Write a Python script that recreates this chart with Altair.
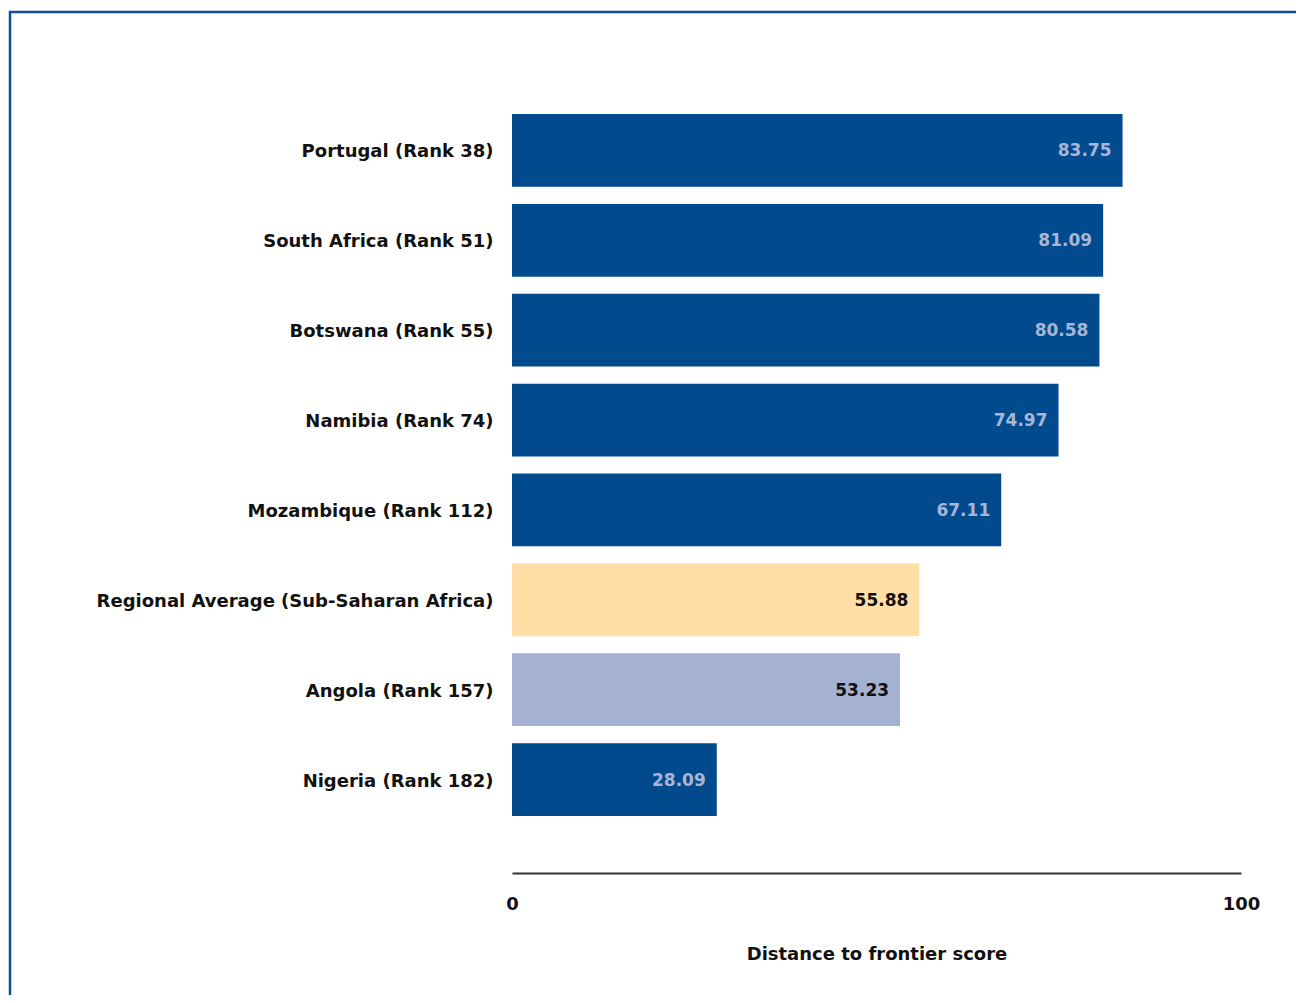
import altair as alt
import pandas as pd

countries = [
    "Portugal (Rank 38)",
    "South Africa (Rank 51)",
    "Botswana (Rank 55)",
    "Namibia (Rank 74)",
    "Mozambique (Rank 112)",
    "Regional Average (Sub-Saharan Africa)",
    "Angola (Rank 157)",
    "Nigeria (Rank 182)",
]
scores = [83.75, 81.09, 80.58, 74.97, 67.11, 55.88, 53.23, 28.09]
groups = ["other", "other", "other", "other", "other", "region", "angola", "other"]

df = pd.DataFrame({"country": countries, "score": scores, "group": groups})
df["label"] = df["score"].map(lambda v: f"{v:.2f}")

FONT = "DejaVu Sans"

y_enc = alt.Y(
    "country:N",
    sort=countries,
    scale=alt.Scale(paddingInner=0.19, paddingOuter=0.1),
    axis=alt.Axis(
        title=None, domain=False, ticks=False, labelPadding=19,
        labelOffset=2,
        labelFont=FONT, labelFontWeight="bold", labelFontSize=18,
        labelColor="#111111", labelLimit=600,
    ),
)
x_enc = alt.X(
    "score:Q",
    scale=alt.Scale(domain=[0, 100], nice=False),
    axis=alt.Axis(
        title="Distance to frontier score", values=[0, 100], grid=False,
        ticks=False, domainColor="#333333", domainWidth=2, offset=48,
        labelPadding=22, labelFlush=False, labelFont=FONT,
        labelFontWeight="bold", labelFontSize=18, labelColor="#111111",
        titleFont=FONT, titleFontWeight="bold", titleFontSize=18,
        titleColor="#111111", titlePadding=32,
    ),
)

bars = alt.Chart(df).mark_bar(cornerRadius=0).encode(
    y=y_enc,
    x=x_enc,
    color=alt.Color(
        "group:N",
        scale=alt.Scale(domain=["other", "region", "angola"],
                        range=["#004A8D", "#FFDFA6", "#A4B1D3"]),
        legend=None,
    ),
)

text = alt.Chart(df).mark_text(
    align="right", baseline="middle", dx=-11, dy=1, font=FONT,
    fontWeight="bold", fontSize=17,
).encode(
    y=alt.Y("country:N", sort=countries),
    x="score:Q",
    text="label:N",
    color=alt.Color(
        "group:N",
        scale=alt.Scale(domain=["other", "region", "angola"],
                        range=["#A8B5D6", "#111111", "#111111"]),
        legend=None,
    ),
)

frame = alt.Chart(pd.DataFrame({"k": [0]})).mark_rect(
    fill=None, stroke="#0D4F9C", strokeWidth=2.5
).encode(
    x=alt.value(-502), x2=alt.value(810),
    y=alt.value(-93), y2=alt.value(950),
)

chart = alt.layer(frame, bars, text).resolve_scale(color="independent").properties(
    width=729,
    height=720,
    padding={"left": 504, "right": 55, "top": 97, "bottom": 170},
    autosize=alt.AutoSizeParams(type="none"),
).configure_view(stroke=None)

chart.save("out.html", embed_options={"renderer": "svg", "actions": False})
